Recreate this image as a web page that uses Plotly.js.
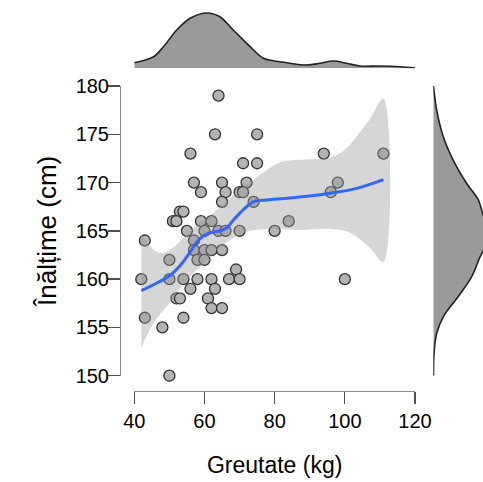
<!DOCTYPE html>
<html><head><meta charset="utf-8">
<script src="https://cdn.plot.ly/plotly-3.0.1.min.js"></script>
<style>html,body{margin:0;padding:0;background:#fff}#c{width:483px;height:482px}</style>
</head><body><div id="c"></div>
<script>
// Scatter data: weight (kg), height (cm)
const weight = [64, 63,75, 56,94,111, 71,75, 57,65,72,98, 59,66,70,71,96, 65,74, 53,54,
  51,52,59,62,84, 55,60,64,66,70,80, 43,57, 57,60,62,65, 50,58,60, 69,
  42,50,54,58,62,67,70,100, 56,63, 52,53,61, 62,65, 43,54, 48, 50];
const height = [179, 175,175, 173,173,173, 172,172, 170,170,170,170, 169,169,169,169,169, 168,168, 167,167,
  166,166,166,166,166, 165,165,165,165,165,165, 164,164, 163,163,163,163, 162,162,162, 161,
  160,160,160,160,160,160,160,160, 159,159, 158,158,158, 157,157, 156,156, 155, 150];

// Loess smooth line and its confidence band
const fitX = [42, 46.4, 50.2, 53.5, 55.9, 58.7, 61.6, 64.4, 66.3, 68.2, 71.1, 73.9, 77.7, 84.4, 95.8, 103.4, 111];
const fitY = [158.8, 159.6, 160.4, 161.6, 162.8, 164.2, 164.8, 165.0, 165.3, 166.1, 167.2, 168.0, 168.2, 168.4, 168.9, 169.4, 170.3];
const upX = [42, 44.5, 47.3, 50, 53, 57.8, 61.6, 64.4, 68.2, 71.1, 74, 78.6, 82.5, 89, 95.8, 100, 103.4, 107, 111];
const upY = [164.6, 163.4, 162.7, 163.0, 163.9, 165.6, 166.6, 167.4, 168.7, 169.6, 170.3, 171.5, 172.2, 172.4, 172.6, 173.4, 174.8, 176.5, 178.7];
const loX = [42, 45.4, 50.2, 54.9, 59.7, 63.5, 67.3, 73, 78.6, 87.2, 95.8, 100, 103.4, 107, 111];
const loY = [152.9, 155.4, 157.6, 159.9, 161.6, 163.0, 164.05, 165.0, 165.2, 165.1, 165.2, 165.0, 164.4, 163.3, 161.8];

// Marginal densities (relative values)
const densWX = [40, 45.5, 48.3, 52.1, 55.9, 59.7, 61.6, 64.4, 68.2, 73, 76.8, 79.6, 83.4, 89.1, 92.9, 96.7, 100.5, 104.3, 110, 115.7, 120];
const densWY = [5.6, 11.6, 21.6, 38.3, 50, 55, 55, 51.6, 38.3, 21.6, 10, 7.6, 5.6, 3.3, 5, 7.3, 5, 2.3, 2.3, 1.6, 0.3];
const densHY = [150, 152.3, 154.4, 156.1, 158.2, 160.25, 162.3, 163.5, 164.8, 166, 166.8, 168.2, 169.9, 172.3, 174.75, 177.5, 180];
const densHX = [0.3, 0.7, 3.4, 10, 25, 38.4, 46.7, 52.5, 54, 52, 49.4, 45, 33.4, 20, 10, 3.4, 0.2];

const xTicks = [40, 60, 80, 100, 120];
const yTicks = [150, 155, 160, 165, 170, 175, 180];

const W = 483, H = 482;
const fx = p => p / W, fy = p => 1 - p / H;
const FAM = 'Liberation Sans, Arial, sans-serif';
const tickFont = {family: FAM, size: 20, color: '#000'};
const axCommon = {showgrid: false, zeroline: false, showline: true, linecolor: '#8c8c8c', linewidth: 1.3,
  ticks: 'outside', ticklen: 12, tickwidth: 1.3, tickcolor: '#505050', tickfont: tickFont, tickmode: 'array'};

const traces = [
  {x: weight, y: height, type: 'scatter', mode: 'markers', cliponaxis: false,
   marker: {size: 11, color: '#b3b3b3', line: {color: '#333333', width: 1.3}}, hoverinfo: 'none'},
  {x: upX.concat(loX.slice().reverse()), y: upY.concat(loY.slice().reverse()), type: 'scatter', mode: 'lines',
   fill: 'toself', fillcolor: 'rgba(153,153,153,0.4)', line: {width: 0, shape: 'spline'}, hoverinfo: 'none'},
  {x: fitX, y: fitY, type: 'scatter', mode: 'lines', line: {color: '#3366FF', width: 3, shape: 'spline'}, hoverinfo: 'none'},
  {x: densWX, y: densWY, xaxis: 'x2', yaxis: 'y2', type: 'scatter', mode: 'lines', fill: 'tozeroy',
   fillcolor: '#9a9a9a', line: {color: '#222', width: 1.6, shape: 'spline'}, hoverinfo: 'none'},
  {x: densHX, y: densHY, xaxis: 'x3', yaxis: 'y3', type: 'scatter', mode: 'lines', fill: 'tozerox',
   fillcolor: '#9a9a9a', line: {color: '#222', width: 1.6, shape: 'spline'}, hoverinfo: 'none'}
];

const xDom = [fx(134.3), fx(415)];
const yDom = [fy(375.7), fy(86)];
const layout = {
  width: W, height: H, margin: {l: 0, r: 0, t: 0, b: 0}, showlegend: false,
  paper_bgcolor: '#fff', plot_bgcolor: 'rgba(0,0,0,0)',
  xaxis: Object.assign({}, axCommon, {domain: xDom, range: [40, 120], anchor: 'free', position: fy(390.7),
    tickvals: xTicks, ticktext: xTicks.map(String),
    title: {text: 'Greutate (kg)', font: {family: FAM, size: 23, color: '#000'}, standoff: 26}}),
  yaxis: Object.assign({}, axCommon, {domain: yDom, range: [150, 180], anchor: 'free', position: fx(120),
    tickvals: yTicks, ticktext: yTicks.map(String), ticklabelstandoff: -5,
    title: {text: 'Înălțime (cm)', font: {family: FAM, size: 26, color: '#000'}, standoff: 10}}),
  xaxis2: {domain: xDom, range: [40, 120], visible: false, anchor: 'y2'},
  yaxis2: {domain: [fy(68.3), fy(8)], range: [0, 55 / 0.912], visible: false, anchor: 'x2'},
  xaxis3: {domain: [fx(433.3), 1], range: [0, 49.7], visible: false, anchor: 'y3'},
  yaxis3: {domain: yDom, range: [150, 180], visible: false, anchor: 'x3'}
};
Plotly.newPlot('c', traces, layout, {staticPlot: true, displayModeBar: false});
</script></body></html>
